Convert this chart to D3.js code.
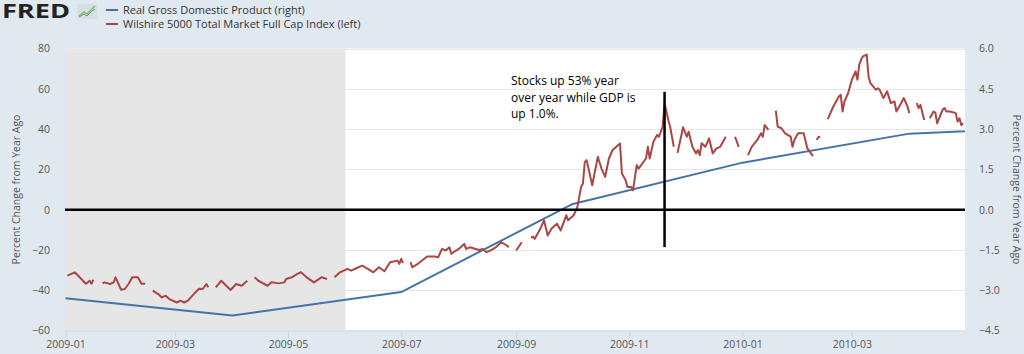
<!DOCTYPE html>
<html lang="en">
<head>
<meta charset="utf-8">
<title>FRED - Wilshire 5000 vs Real GDP</title>
<script src="https://cdn.jsdelivr.net/npm/d3@7"></script>
<style>
  body { margin: 0; background: #e1e9f0; }
  text { font-family: "Open Sans", sans-serif; }
</style>
</head>
<body>
<script>

var w = 1024;
var h = 354;
var plotLeft = 65, plotRight = 965, plotTop = 48.5, plotBottom = 330.5;

// Real GDP, percent change from year ago (quarterly, right axis)
var gdpDates = ["2009-01-01", "2009-04-01", "2009-07-01", "2009-10-01", "2010-01-01", "2010-04-01", "2010-07-01"];
var gdpValues = [-3.3, -3.94, -3.07, 0.2, 1.75, 2.83, 3.1];

// Wilshire 5000, percent change from year ago (left axis), null = gap
var wilshireDates = [
  "2009-01-02","2009-01-06","2009-01-12","2009-01-14","2009-01-15","2009-01-16","2009-01-19",
  "2009-01-21","2009-01-22","2009-01-25","2009-01-27","2009-01-28","2009-01-31","2009-02-02",
  "2009-02-04","2009-02-06","2009-02-09","2009-02-11","2009-02-13","2009-02-16",
  "2009-02-17","2009-02-20","2009-02-22","2009-02-24","2009-02-26","2009-03-02","2009-03-04",
  "2009-03-06","2009-03-08","2009-03-12","2009-03-14","2009-03-16","2009-03-18","2009-03-19","2009-03-21",
  "2009-03-23","2009-03-26","2009-03-31","2009-04-03","2009-04-06","2009-04-09","2009-04-10",
  "2009-04-13","2009-04-15","2009-04-20","2009-04-22","2009-04-26","2009-04-29","2009-04-30",
  "2009-05-03","2009-05-06","2009-05-08","2009-05-11","2009-05-15","2009-05-19","2009-05-22","2009-05-25",
  "2009-05-26","2009-05-29","2009-06-02","2009-06-04","2009-06-08","2009-06-10","2009-06-13",
  "2009-06-16","2009-06-19","2009-06-22","2009-06-25","2009-06-29","2009-06-30","2009-07-01","2009-07-02","2009-07-03",
  "2009-07-06","2009-07-07","2009-07-10","2009-07-15","2009-07-19","2009-07-21","2009-07-23",
  "2009-07-25","2009-07-27","2009-07-28","2009-08-01","2009-08-04","2009-08-05","2009-08-07",
  "2009-08-12","2009-08-14","2009-08-16","2009-08-18","2009-08-21","2009-08-24","2009-08-27","2009-08-28","2009-08-31",
  "2009-09-01","2009-09-04","2009-09-07",
  "2009-09-09","2009-09-10","2009-09-11","2009-09-13","2009-09-14","2009-09-16","2009-09-18",
  "2009-09-20","2009-09-23","2009-09-25","2009-09-28","2009-09-29","2009-10-02","2009-10-04",
  "2009-10-06","2009-10-07","2009-10-08","2009-10-09","2009-10-12","2009-10-15","2009-10-17",
  "2009-10-19","2009-10-21","2009-10-23","2009-10-25","2009-10-27","2009-10-28","2009-10-30",
  "2009-10-31","2009-11-02","2009-11-03","2009-11-05","2009-11-06","2009-11-10","2009-11-11",
  "2009-11-12","2009-11-14","2009-11-16","2009-11-17","2009-11-19","2009-11-20","2009-11-22",
  "2009-11-23","2009-11-24","2009-11-25","2009-11-26",
  "2009-11-27","2009-11-30","2009-12-02","2009-12-03","2009-12-05","2009-12-07","2009-12-08",
  "2009-12-09","2009-12-10","2009-12-12","2009-12-14","2009-12-16","2009-12-18","2009-12-20","2009-12-23","2009-12-25",
  "2009-12-28","2009-12-30","2010-01-01",
  "2010-01-04","2010-01-06","2010-01-09","2010-01-11","2010-01-12","2010-01-13","2010-01-15","2010-01-18",
  "2010-01-19","2010-01-20","2010-01-22","2010-01-24","2010-01-27","2010-01-28","2010-01-29",
  "2010-01-31","2010-02-03","2010-02-05","2010-02-08","2010-02-09",
  "2010-02-10","2010-02-11","2010-02-12","2010-02-15",
  "2010-02-16","2010-02-19","2010-02-22","2010-02-23","2010-02-24","2010-02-25","2010-02-27",
  "2010-03-01","2010-03-03","2010-03-04","2010-03-05","2010-03-06","2010-03-07","2010-03-09",
  "2010-03-10","2010-03-11","2010-03-14","2010-03-15","2010-03-16","2010-03-18","2010-03-20",
  "2010-03-22","2010-03-24","2010-03-25","2010-03-27","2010-03-29","2010-03-31","2010-04-01","2010-04-02",
  "2010-04-05","2010-04-06","2010-04-07","2010-04-09","2010-04-11",
  "2010-04-12","2010-04-14","2010-04-15","2010-04-16","2010-04-19","2010-04-20","2010-04-21",
  "2010-04-23","2010-04-26","2010-04-27","2010-04-28","2010-04-29","2010-04-30"
];
var wilshireValues = [
  -32.8,-31.1,-36.8,-35.3,-36.8,-34.8,null,
  -36.6,-36.1,-36.9,-36.1,-33.6,-39.8,-39.4,
  -36.9,-33.6,-33.6,-36.8,-36.8,null,
  -40.2,-41.9,-43.6,-42.7,-44.4,-46.1,-45.2,
  -46.1,-45.2,-41.1,-39.3,-39.4,-36.9,-38.6,null,
  -38.6,-35.3,-39.9,-36.9,-37.8,-35.3,null,
  -33.6,-35.3,-37.8,-36.1,-36.6,-36.1,-34.4,
  -33.6,-31.9,-31.1,-33.6,-36.1,-33.6,-34.4,null,
  -33.6,-31.1,-29.4,-30.3,-28.6,-27.8,-29.4,
  -31.1,-28.6,-30.6,-26.1,-25.3,-26.9,-24.4,-26.6,null,
  -26.1,-28.6,-26.9,-23.3,-23.3,-23.6,-19.5,
  -20.3,-18.7,-21.9,-19.5,-17.0,-19.5,-18.7,
  -20.0,-19.5,-21.1,-20.3,-18.7,-16.2,-17.8,-18.7,null,
  -20.3,-16.2,null,
  -14.0,-13.3,-14.5,-11.2,-9.5,-5.3,-12.8,
  -9.5,-7.0,-10.3,-2.8,-5.3,-2.8,1.3,
  11.3,13.0,23.7,24.6,12.1,26.2,20.4,
  16.3,25.4,29.6,31.2,32.9,18.0,14.6,
  11.3,11.3,9.6,22.1,20.4,25.4,31.2,
  25.4,33.7,37.1,36.2,41.2,52.9,44.5,
  41.2,36.2,31.2,null,
  28.2,40.9,36.2,38.7,31.2,27.9,29.6,
  27.1,33.0,31.2,35.4,27.9,30.4,31.2,36.2,null,
  36.2,31.2,null,
  27.1,31.2,34.6,37.9,36.2,42.0,39.6,null,
  49.2,41.2,40.4,37.9,36.2,31.2,34.6,
  37.9,37.9,30.4,26.6,null,
  34.6,36.1,36.2,null,
  44.9,51.2,56.2,57.0,48.7,53.7,57.9,
  64.5,68.6,64.5,72.0,74.5,76.1,77.0,
  66.1,62.8,59.5,60.3,59.5,55.4,58.7,
  52.9,53.7,48.7,52.0,55.4,51.2,47.9,null,
  52.9,50.4,52.0,44.5,null,
  45.4,48.7,48.2,42.9,49.7,50.4,48.7,
  48.7,47.9,43.7,45.4,42.0,42.9
];

var leftTicks = [-60, -40, -20, 0, 20, 40, 60, 80];
var rightTicks = [-4.5, -3.0, -1.5, 0.0, 1.5, 3.0, 4.5, 6.0];
var xTickLabels = ["2009-01", "2009-03", "2009-05", "2009-07", "2009-09", "2009-11", "2010-01", "2010-03"];

var recession = ["2009-01-01", "2009-06-01"];

// annotation: vertical marker and note
var markDate = "2009-11-20";
var markRange = [58.5, -18.6];
var noteLines = ["Stocks up 53% year", "over year while GDP is", "up 1.0%."];

var parseDate = d3.timeParse("%Y-%m-%d");
var parseMonth = d3.timeParse("%Y-%m");

var gdp = gdpDates.map(function(d, i) { return { date: parseDate(d), value: gdpValues[i] }; });
var wilshire = wilshireDates.map(function(d, i) { return { date: parseDate(d), value: wilshireValues[i] }; });

var xScale = d3.scaleTime()
               .domain([parseDate("2009-01-01"), parseDate("2010-05-01")])
               .range([plotLeft + 0.5, plotRight]);

var yLeft = d3.scaleLinear().domain([-60, 80]).range([plotBottom, plotTop]);
var yRight = d3.scaleLinear().domain([-4.5, 6.0]).range([plotBottom, plotTop]);

var svg = d3.select("body")
            .append("svg")
            .attr("width", w)
            .attr("height", h)
            .style("display", "block");

svg.append("rect").attr("width", w).attr("height", h).attr("fill", "#e1e9f0");

// plot background
svg.append("rect")
   .attr("x", plotLeft).attr("y", plotTop)
   .attr("width", plotRight - plotLeft).attr("height", plotBottom - plotTop)
   .attr("fill", "#ffffff");

// gridlines
svg.append("g")
   .selectAll("line")
   .data(leftTicks)
   .enter()
   .append("line")
   .attr("x1", plotLeft).attr("x2", plotRight)
   .attr("y1", function(d) { return Math.round(yLeft(d)) + 0.5; })
   .attr("y2", function(d) { return Math.round(yLeft(d)) + 0.5; })
   .attr("stroke", "#e6e6e6");

// recession shading
svg.append("rect")
   .attr("x", xScale(parseDate(recession[0])) - 0.5)
   .attr("y", plotTop)
   .attr("width", xScale(parseDate(recession[1])) - xScale(parseDate(recession[0])) + 0.5)
   .attr("height", plotBottom - plotTop)
   .attr("fill", "#e6e6e6");

// bottom axis line
svg.append("line")
   .attr("x1", plotLeft).attr("x2", plotRight)
   .attr("y1", plotBottom + 0.5).attr("y2", plotBottom + 0.5)
   .attr("stroke", "#ccd6eb");

// x axis
var xAxis = d3.axisBottom(xScale)
              .tickValues(xTickLabels.map(parseMonth))
              .tickFormat(d3.timeFormat("%Y-%m"))
              .tickSize(7)
              .tickPadding(3);

var gx = svg.append("g")
            .attr("transform", "translate(0," + (plotBottom + 0.5) + ")")
            .call(xAxis);
gx.select(".domain").remove();
gx.selectAll("line").attr("stroke", "#ccd6eb");
gx.selectAll("text").attr("fill", "#555").attr("font-size", "10.5px").attr("font-family", "Open Sans, sans-serif");

// left axis
var gl = svg.append("g")
            .attr("transform", "translate(" + plotLeft + ",0)")
            .call(d3.axisLeft(yLeft).tickValues(leftTicks).tickSize(0).tickPadding(15));
gl.select(".domain").remove();
gl.selectAll("text").attr("fill", "#555").attr("font-size", "10.5px").attr("font-family", "Open Sans, sans-serif");

// right axis
var gr = svg.append("g")
            .attr("transform", "translate(" + plotRight + ",0)")
            .call(d3.axisRight(yRight).tickValues(rightTicks).tickSize(0).tickPadding(14).tickFormat(d3.format(".1f")));
gr.select(".domain").remove();
gr.selectAll("text").attr("fill", "#555").attr("font-size", "10.5px").attr("font-family", "Open Sans, sans-serif");

// axis titles
svg.append("text")
   .attr("transform", "translate(20," + ((plotTop + plotBottom) / 2) + ") rotate(-90)")
   .attr("text-anchor", "middle")
   .attr("font-size", "10.5px")
   .attr("fill", "#555")
   .text("Percent Change from Year Ago");

svg.append("text")
   .attr("transform", "translate(1013," + ((plotTop + plotBottom) / 2) + ") rotate(90)")
   .attr("text-anchor", "middle")
   .attr("font-size", "10.5px")
   .attr("fill", "#555")
   .text("Percent Change from Year Ago");

// series
svg.append("clipPath").attr("id", "plotclip")
   .append("rect")
   .attr("x", plotLeft).attr("y", plotTop)
   .attr("width", plotRight - plotLeft).attr("height", plotBottom - plotTop);

var gdpLine = d3.line()
                .x(function(d) { return xScale(d.date); })
                .y(function(d) { return yRight(d.value); });

var wilLine = d3.line()
                .defined(function(d) { return d.value !== null; })
                .x(function(d) { return xScale(d.date); })
                .y(function(d) { return yLeft(d.value); });

svg.append("path")
   .datum(gdp)
   .attr("clip-path", "url(#plotclip)")
   .attr("d", gdpLine)
   .attr("fill", "none")
   .attr("stroke", "#4572a7")
   .attr("stroke-width", 2)
   .attr("stroke-linejoin", "round");

svg.append("path")
   .datum(wilshire)
   .attr("clip-path", "url(#plotclip)")
   .attr("d", wilLine)
   .attr("fill", "none")
   .attr("stroke", "#aa4643")
   .attr("stroke-width", 2)
   .attr("stroke-linejoin", "round");

// zero line and marker
svg.append("line")
   .attr("x1", plotLeft).attr("x2", plotRight)
   .attr("y1", yLeft(0)).attr("y2", yLeft(0))
   .attr("stroke", "#000")
   .attr("stroke-width", 2.5);

svg.append("line")
   .attr("x1", xScale(parseDate(markDate))).attr("x2", xScale(parseDate(markDate)))
   .attr("y1", yLeft(markRange[0])).attr("y2", yLeft(markRange[1]))
   .attr("stroke", "#000")
   .attr("stroke-width", 2.5);

svg.append("g")
   .selectAll("text")
   .data(noteLines)
   .enter()
   .append("text")
   .attr("x", 511)
   .attr("y", function(d, i) { return 85 + i * 16.5; })
   .attr("font-size", "12px")
   .attr("fill", "#000")
   .text(function(d) { return d; });

// legend
var legend = [
  { name: "Real Gross Domestic Product (right)", color: "#4572a7" },
  { name: "Wilshire 5000 Total Market Full Cap Index (left)", color: "#aa4643" }
];

var lg = svg.append("g")
            .selectAll("g")
            .data(legend)
            .enter()
            .append("g")
            .attr("transform", function(d, i) { return "translate(106," + (10 + i * 14) + ")"; });

lg.append("line")
  .attr("x1", 0).attr("x2", 12)
  .attr("stroke", function(d) { return d.color; })
  .attr("stroke-width", 2);

lg.append("text")
  .attr("x", 17)
  .attr("dy", "0.35em")
  .attr("font-size", "11px")
  .attr("fill", "#333")
  .text(function(d) { return d.name; });

// FRED logo
svg.append("text")
   .attr("x", 2).attr("y", 18)
   .attr("font-family", "DejaVu Sans, sans-serif")
   .attr("font-weight", "bold")
   .attr("font-size", "20px")
   .attr("textLength", 68)
   .attr("lengthAdjust", "spacingAndGlyphs")
   .attr("fill", "#222")
   .text("FRED");

var logo = svg.append("g").attr("transform", "translate(77,4)");
logo.append("rect").attr("width", 20).attr("height", 15).attr("rx", 2).attr("fill", "#d4dfe8");
logo.append("path").attr("d", "M2,12 L7,8 L10,10 L15,5 L18,2").attr("fill", "none").attr("stroke", "#8bc34a").attr("stroke-width", 1.5);
logo.append("path").attr("d", "M2,13 L7,10 L10,12 L15,7 L18,5").attr("fill", "none").attr("stroke", "#5b8fc7").attr("stroke-width", 1);

</script>
</body>
</html>
